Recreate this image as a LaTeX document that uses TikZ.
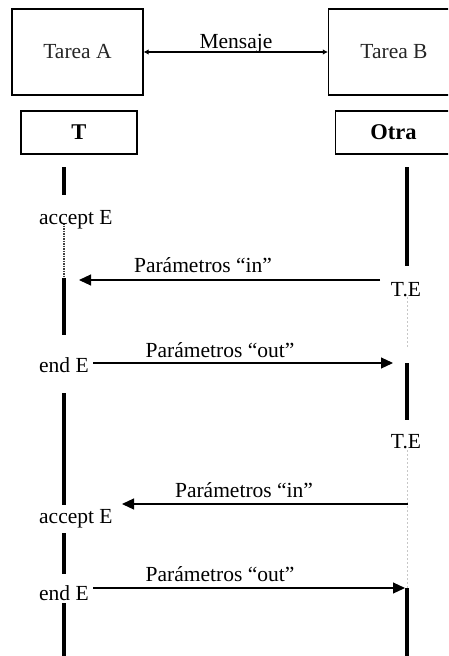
\documentclass[tikz,border=0pt]{standalone}
\usepackage{fontspec}
\setmainfont{Liberation Serif}
\usetikzlibrary{arrows.meta}
\begin{document}
\begin{tikzpicture}[x=1pt,y=-1pt,
  lbl/.style={inner sep=0pt, font=\fontsize{21.5}{25}\selectfont},
  taskbox/.style={draw, line width=1.2pt, minimum width=131pt, minimum height=86pt,
    inner sep=0pt, font=\fontsize{21.5}{25}\selectfont, text=black!85},
  namebox/.style={draw, line width=1.2pt, minimum width=116pt, minimum height=43pt,
    inner sep=0pt, font=\bfseries\fontsize{22.5}{26}\selectfont},
  life/.style={line width=4pt},
  waitA/.style={line width=2pt, dash pattern=on 1.5pt off 1pt, black!75},
  waitB/.style={line width=1pt, dash pattern=on 2pt off 2pt, black!22},
  msg/.style={line width=1.1pt, -{Triangle[length=12pt,width=11pt]}},
  link/.style={line width=1.7pt, {Latex[length=5pt,width=5.5pt]}-{Latex[length=5pt,width=5.5pt]}},
]
\clip (0,0) rectangle (448,656);

% tasks and their entries
\node[taskbox] (tA) at (77.5,52) {Tarea A};
\node[taskbox] (tB) at (394,52) {Tarea B};
\draw[link] (tA.east) -- (tB.west);
\node[lbl, anchor=base] (mensaje) at (236,48) {Mensaje};
\node[namebox] (nT) at (79,132.5) {T};
\node[namebox] (nO) at (393.5,132.5) {Otra};

% lifeline of task A
\coordinate (a1) at (64,167); \coordinate (a2) at (64,195);
\coordinate (a3) at (64,223); \coordinate (a4) at (64,278);
\coordinate (a5) at (64,335); \coordinate (a6) at (64,393);
\coordinate (a7) at (64,505); \coordinate (a8) at (64,533);
\coordinate (a9) at (64,574); \coordinate (a10) at (64,603);
\coordinate (a11) at (64,660);
\draw[life] (a1) -- (a2);
\draw[waitA] (a3) -- (a4);
\draw[life] (a4) -- (a5);
\draw[life] (a6) -- (a7);
\draw[life] (a8) -- (a9);
\draw[life] (a10) -- (a11);

% lifeline of task B
\coordinate (b1) at (407,167); \coordinate (b2) at (407,266);
\coordinate (b3) at (407,297); \coordinate (b4) at (407,348);
\coordinate (b5) at (407,363); \coordinate (b6) at (407,420);
\coordinate (b7) at (407,450); \coordinate (b8) at (407,588);
\coordinate (b9) at (407,660);
\draw[life] (b1) -- (b2);
\draw[waitB] (b3) -- (b4);
\draw[life] (b5) -- (b6);
\draw[waitB] (b7) -- (b8);
\draw[life] (b8) -- (b9);

% first rendezvous
\node[lbl, anchor=base west] (acc1) at (39,224) {accept E};
\node[lbl, anchor=base] (te1) at (406,296) {T.E};
\coordinate (in1s) at (380,280); \coordinate (in1e) at (79,280);
\draw[msg] (in1s) -- (in1e);
\node[lbl, anchor=base] (pin1) at (203,272) {Parámetros “in”};
\node[lbl, anchor=base west] (end1) at (39,372) {end E};
\coordinate (out1s) at (93,363); \coordinate (out1e) at (393,363);
\draw[msg] (out1s) -- (out1e);
\node[lbl, anchor=base] (pout1) at (220,357) {Parámetros “out”};

% second rendezvous
\node[lbl, anchor=base] (te2) at (406,448) {T.E};
\coordinate (in2s) at (408,504); \coordinate (in2e) at (122,504);
\draw[msg] (in2s) -- (in2e);
\node[lbl, anchor=base] (pin2) at (244,497) {Parámetros “in”};
\node[lbl, anchor=base west] (acc2) at (39,523) {accept E};
\node[lbl, anchor=base west] (end2) at (39,600) {end E};
\coordinate (out2s) at (93,588); \coordinate (out2e) at (405,588);
\draw[msg] (out2s) -- (out2e);
\node[lbl, anchor=base] (pout2) at (220,581) {Parámetros “out”};
\end{tikzpicture}
\end{document}
